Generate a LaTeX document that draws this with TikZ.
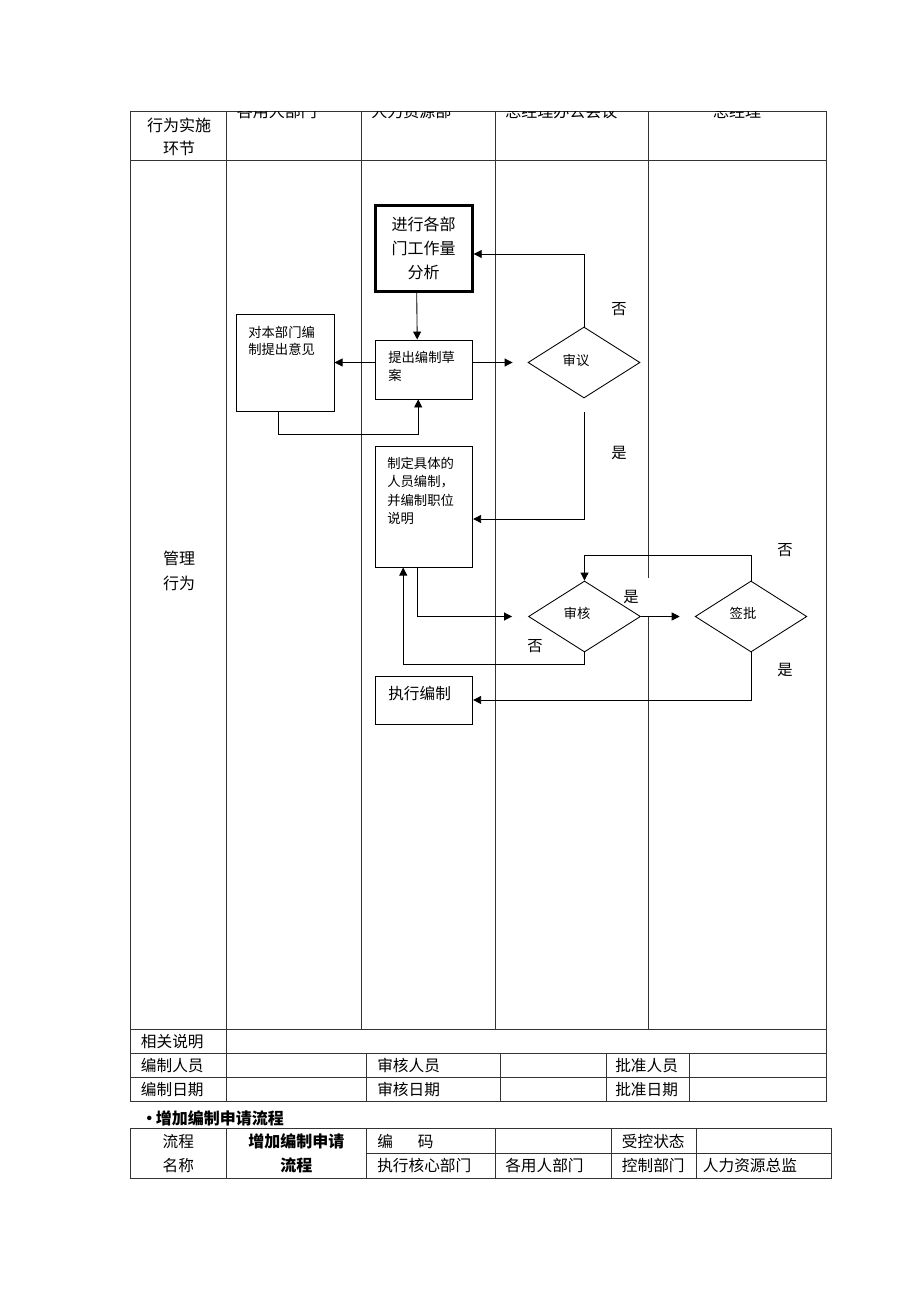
\documentclass[tikz,border=0pt]{standalone}
\usepackage{fontspec}
\setmainfont{Noto Sans CJK SC}
\usetikzlibrary{shapes.geometric,arrows.meta}

\tikzset{
  rule/.style={line width=0.6pt,draw=black!80},
  flow/.style={line width=0.65pt,-{Triangle[length=6pt,width=6pt]}},
  procbox/.style={draw,line width=0.65pt,minimum width=72.75pt,inner sep=0pt},
  decide/.style={draw,diamond,line width=0.65pt,minimum width=84pt,minimum height=53.25pt,inner sep=0pt},
  cell/.style={anchor=west,inner sep=0pt,font=\fontsize{11.75}{14}\selectfont},
  tag/.style={inner sep=0pt,font=\fontsize{11.5}{14}\selectfont},
  boxtext/.style={anchor=north west,align=left,inner sep=0pt,font=\fontsize{10}{13.5}\selectfont},
  headtext/.style={inner sep=0pt,font=\fontsize{12}{14}\selectfont}
}

\begin{document}
\begin{tikzpicture}[x=0.75pt,y=-0.75pt]
  \useasboundingbox (0,0) rectangle (920,1302);

  \draw[rule] (130.7,111.7) rectangle (826.7,1101.7);
  \draw[rule] (130.7,160) -- (826.7,160);
  \foreach \y in {1029.3,1053.5,1077.7}
    \draw[rule] (130.7,\y) -- (826.7,\y);
  \draw[rule] (226,111.7) -- (226,1101.7);
  \foreach \x in {361.7,495}
    \draw[rule] (\x,111.7) -- (\x,1029.3);
  \draw[rule] (648,111.7) -- (648,578);
  \draw[rule] (648,616) -- (648,1029.3);
  \foreach \x in {366.7,500.7,606,689}
    \draw[rule] (\x,1053.5) -- (\x,1101.7);

  \begin{scope}
    \clip (130.7,111.7) rectangle (826.7,160);
    \node[headtext,anchor=base west] (husr) at (236.5,117.5) {各用人部门};
    \node[headtext,anchor=base west] (hhr) at (371,117.5) {人力资源部};
    \node[headtext,anchor=base west] (hmeet) at (505,117.5) {总经理办公会议};
    \node[headtext,anchor=base] (hgm) at (737,117.5) {总经理};
  \end{scope}

  \node[headtext,align=center,font=\fontsize{12}{17.25}\selectfont] (hstep) at (179,136.5) {行为实施\\环节};
  \node[headtext,align=center,font=\fontsize{12}{18.75}\selectfont] (hmgmt) at (179,570.5) {管理\\行为};

  \node[procbox,line width=2.25pt,minimum height=64.5pt,align=center,font=\fontsize{12}{18}\selectfont] (anal) at (423.7,248) {进行各部\\门工作量\\分析};
  \node[procbox,minimum height=44.25pt] (draft) at (424.2,369.5) {};
  \node[boxtext] (drafttxt) at (388,351) {提出编制草\\案};
  \node[procbox,minimum width=73pt,minimum height=72.75pt] (opin) at (285.4,362.5) {};
  \node[boxtext,font=\fontsize{10}{13}\selectfont] (opintxt) at (248,326) {对本部门编\\制提出意见};
  \node[procbox,minimum height=90.2pt] (spec) at (424.2,507) {};
  \node[boxtext,font=\fontsize{10}{13.75}\selectfont] (spectxt) at (387,457) {制定具体的\\人员编制，\\并编制职位\\说明};
  \node[procbox,minimum height=36pt] (exec) at (424.2,700) {};
  \node[cell] (exectxt) at (388,694) {执行编制};

  \node[decide] (rev) at (584,362.5) {};
  \node[tag,font=\fontsize{10}{12}\selectfont] (revtxt) at (576,360) {审议};
  \node[decide] (aud) at (584.5,616.5) {};
  \node[tag,font=\fontsize{10}{12}\selectfont] (audtxt) at (577,613) {审核};
  \node[decide,minimum width=83.75pt] (appr) at (751,616.5) {};
  \node[tag,font=\fontsize{10}{12}\selectfont] (apprtxt) at (743,613) {签批};

  \node[tag] (revno) at (619,309) {否};
  \node[tag] (revyes) at (619,453) {是};
  \node[tag] (aprno) at (785,550) {否};
  \node[tag] (audyes) at (631,597) {是};
  \node[tag] (audno) at (535,646) {否};
  \node[tag] (apryes) at (785,670) {是};

  \draw[flow] ([xshift=-5.25pt]anal.south) -- ([xshift=-5.25pt]draft.north);
  \draw[flow] (opin.east -| draft.west) -- (opin.east);
  \draw[flow,shorten >=11.25pt] (rev.west -| draft.east) -- (rev.west);
  \draw[flow] (rev.north) |- ([yshift=-4.5pt]anal.east);
  \draw[flow] ([xshift=-5.25pt]opin.south) -- ++(0,23) -| ([xshift=-4.5pt]draft.south);
  \draw[flow,shorten <=10.5pt] (rev.south) |- ([yshift=-9pt]spec.east);
  \draw[flow,shorten >=12pt] ([xshift=-5.25pt]spec.south) |- (aud.west);
  \draw[flow,shorten >=11.25pt] (aud.east) -- (appr.west);
  \draw[flow] (appr.north) -- ++(0,-25) -| (aud.north);
  \draw[flow] (aud.south) -- ++(0,12) -| ([xshift=-15.75pt]spec.south);
  \draw[flow] (appr.south) |- (exec.east);

  \node[cell] (note) at (140.7,1041.4) {相关说明};
  \node[cell] (prep) at (140.7,1065.6) {编制人员};
  \node[cell] (prepd) at (140.7,1089.7) {编制日期};
  \node[cell] (chk) at (377,1065.6) {审核人员};
  \node[cell] (chkd) at (377,1089.7) {审核日期};
  \node[cell] (aprv) at (615,1065.6) {批准人员};
  \node[cell] (aprvd) at (615,1089.7) {批准日期};

  \node[anchor=west,inner sep=0pt,font=\fontsize{12}{14}\selectfont\bfseries] (title) at (141,1118) {•\hspace{-1pt}增加编制申请流程};

  \draw[rule] (130.7,1128.3) rectangle (831.7,1178.3);
  \draw[rule] (366.7,1153.3) -- (831.7,1153.3);
  \foreach \x in {226,366.7,495.7,611,696}
    \draw[rule] (\x,1128.3) -- (\x,1178.3);

  \node[headtext,align=center,font=\fontsize{11.75}{18.4}\selectfont] (fname) at (178.3,1153.5) {流程\\名称};
  \node[headtext,align=center,font=\fontsize{12}{18.4}\selectfont\bfseries] (ftitle) at (296.3,1153.5) {增加编制申请\\流程};
  \node[cell] (code) at (377,1141) {编\hspace{18.75pt}码};
  \node[cell] (ctrl) at (621.7,1141) {受控状态};
  \node[cell] (core) at (377,1166) {执行核心部门};
  \node[cell] (user) at (505,1166) {各用人部门};
  \node[cell] (ctrld) at (621.7,1166) {控制部门};
  \node[cell] (hrd) at (702.7,1166) {人力资源总监};
\end{tikzpicture}
\end{document}
